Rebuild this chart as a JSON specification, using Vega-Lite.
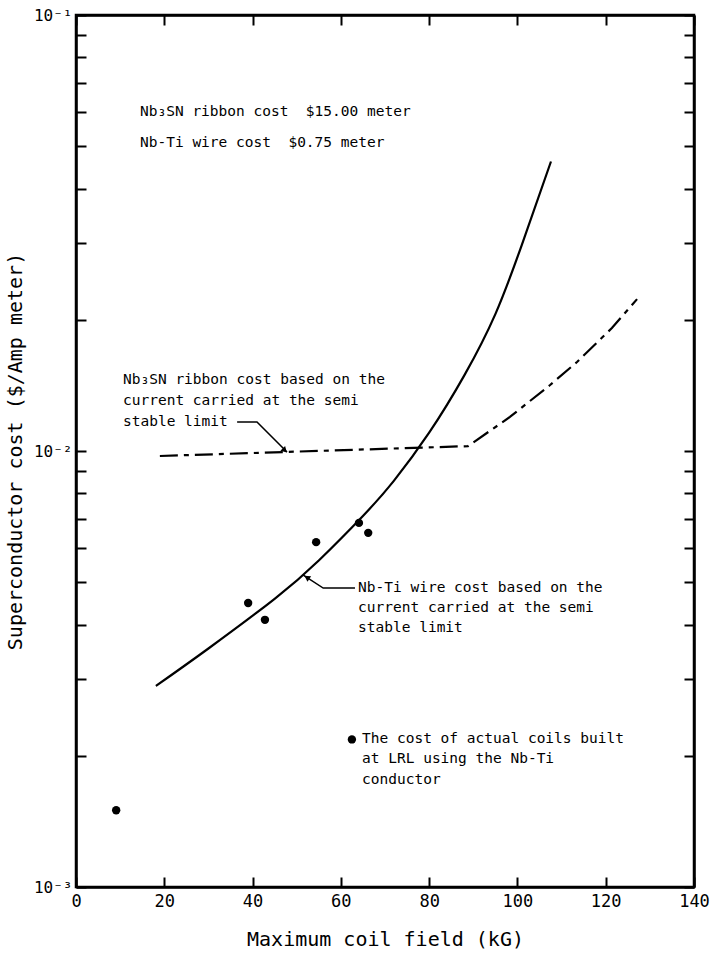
{
  "$schema": "https://vega.github.io/schema/vega-lite/v6.json",
  "width": 618,
  "height": 872,
  "autosize": "none",
  "padding": {"left": 76, "top": 15, "right": 21, "bottom": 69},
  "background": "white",
  "config": {
    "view": {"stroke": "black", "strokeWidth": 2.5},
    "font": "DejaVu Sans Mono",
    "axis": {
      "domainColor": "black",
      "domainWidth": 2.5,
      "tickColor": "black",
      "tickWidth": 2,
      "tickSize": -10,
      "grid": false,
      "labelColor": "black",
      "labelFont": "DejaVu Sans Mono",
      "labelFontSize": 17,
      "labelOverlap": false,
      "labelFlush": false,
      "titleColor": "black",
      "titleFont": "DejaVu Sans Mono",
      "titleFontSize": 20,
      "titleFontWeight": "normal"
    }
  },
  "datasets": {
    "nbti": [
      {"x": 18.1, "y": 0.002891},
      {"x": 30, "y": 0.003524},
      {"x": 45, "y": 0.004581},
      {"x": 55, "y": 0.00561},
      {"x": 65, "y": 0.007096},
      {"x": 72, "y": 0.008541},
      {"x": 80, "y": 0.011015},
      {"x": 88, "y": 0.014928},
      {"x": 95, "y": 0.020606},
      {"x": 101, "y": 0.029717},
      {"x": 107.6, "y": 0.046132}
    ],
    "nb3sn": [
      {"x": 19.0, "y": 0.00974},
      {"x": 88.8, "y": 0.01026},
      {"x": 98.3, "y": 0.01197},
      {"x": 107.4, "y": 0.01417},
      {"x": 113.5, "y": 0.016},
      {"x": 121.4, "y": 0.01914},
      {"x": 127.1, "y": 0.0223}
    ],
    "coils": [
      {"x": 9.1, "y": 0.0015},
      {"x": 39.0, "y": 0.00448},
      {"x": 42.8, "y": 0.0041},
      {"x": 54.4, "y": 0.00618},
      {"x": 64.1, "y": 0.00684},
      {"x": 66.2, "y": 0.00649},
      {"x": 62.5, "y": 0.00218}
    ],
    "leaders": [
      {"leader": "a", "order": 1, "x": 36.5, "y": 0.01165},
      {"leader": "a", "order": 2, "x": 41.0, "y": 0.01165},
      {"leader": "a", "order": 3, "x": 47.8, "y": 0.00995},
      {"leader": "b", "order": 1, "x": 51.4, "y": 0.0052},
      {"leader": "b", "order": 2, "x": 56.0, "y": 0.00485},
      {"leader": "b", "order": 3, "x": 63.2, "y": 0.00485}
    ],
    "arrows": [
      {"x": 47.3, "y": 0.01003, "angle": 135},
      {"x": 52.3, "y": 0.00513, "angle": 303}
    ],
    "notes": [
      {"x": 14.5, "y": 0.0599, "text": "Nb₃SN ribbon cost\u00a0\u00a0$15.00 meter"},
      {"x": 14.5, "y": 0.0508, "text": "Nb-Ti wire cost\u00a0\u00a0$0.75 meter"},
      {"x": 10.65, "y": 0.01455, "text": "Nb₃SN ribbon cost based on the"},
      {"x": 10.65, "y": 0.01302, "text": "current carried at the semi"},
      {"x": 10.65, "y": 0.01165, "text": "stable limit"},
      {"x": 63.9, "y": 0.00485, "text": "Nb-Ti wire cost based on the"},
      {"x": 63.9, "y": 0.00436, "text": "current carried at the semi"},
      {"x": 63.9, "y": 0.00393, "text": "stable limit"},
      {"x": 64.8, "y": 0.00219, "text": "The cost of actual coils built"},
      {"x": 64.8, "y": 0.00197, "text": "at LRL using the Nb-Ti"},
      {"x": 64.8, "y": 0.00176, "text": "conductor"}
    ]
  },
  "resolve": {"axis": {"x": "independent", "y": "independent"}},
  "layer": [
    {
      "data": {"name": "nbti"},
      "mark": {"type": "line", "interpolate": "natural", "color": "black", "strokeWidth": 2.2},
      "encoding": {
        "x": {
          "field": "x", "type": "quantitative",
          "scale": {"domain": [0, 140], "nice": false, "zero": false},
          "axis": {
            "orient": "bottom",
            "values": [0, 20, 40, 60, 80, 100, 120, 140],
            "labelPadding": 16,
            "title": "Maximum coil field (kG)",
            "titlePadding": 20
          }
        },
        "y": {
          "field": "y", "type": "quantitative",
          "scale": {"type": "log", "domain": [0.001, 0.1], "nice": false},
          "axis": {
            "orient": "left",
            "values": [0.001, 0.002, 0.003, 0.004, 0.005, 0.006, 0.007, 0.008, 0.009, 0.01, 0.02, 0.03, 0.04, 0.05, 0.06, 0.07, 0.08, 0.09, 0.1],
            "labelExpr": "datum.value == 0.1 ? '10⁻¹' : datum.value == 0.01 ? '10⁻²' : datum.value == 0.001 ? '10⁻³' : ''",
            "labelFontSize": 16,
            "labelPadding": 14,
            "title": "Superconductor cost ($/Amp meter)",
            "titlePadding": 8
          }
        }
      }
    },
    {
      "data": {"name": "nb3sn"},
      "mark": {"type": "line", "color": "black", "strokeWidth": 2.2, "strokeDash": [18, 6, 5, 6]},
      "encoding": {
        "x": {
          "field": "x", "type": "quantitative",
          "axis": {"orient": "top", "values": [0, 20, 40, 60, 80, 100, 120, 140], "labels": false, "title": null}
        },
        "y": {
          "field": "y", "type": "quantitative",
          "axis": {
            "orient": "right",
            "values": [0.001, 0.002, 0.003, 0.004, 0.005, 0.006, 0.007, 0.008, 0.009, 0.01, 0.02, 0.03, 0.04, 0.05, 0.06, 0.07, 0.08, 0.09, 0.1],
            "labels": false, "title": null
          }
        }
      }
    },
    {
      "data": {"name": "leaders"},
      "mark": {"type": "line", "color": "black", "strokeWidth": 1.5},
      "encoding": {
        "x": {"field": "x", "type": "quantitative", "axis": null},
        "y": {"field": "y", "type": "quantitative", "axis": null},
        "detail": {"field": "leader"},
        "order": {"field": "order"}
      }
    },
    {
      "data": {"name": "arrows"},
      "mark": {"type": "point", "shape": "triangle-up", "filled": true, "color": "black", "size": 45, "opacity": 1},
      "encoding": {
        "x": {"field": "x", "type": "quantitative", "axis": null},
        "y": {"field": "y", "type": "quantitative", "axis": null},
        "angle": {"field": "angle", "type": "quantitative", "scale": null}
      }
    },
    {
      "data": {"name": "coils"},
      "mark": {"type": "circle", "color": "black", "size": 70, "opacity": 1},
      "encoding": {
        "x": {"field": "x", "type": "quantitative", "axis": null},
        "y": {"field": "y", "type": "quantitative", "axis": null}
      }
    },
    {
      "data": {"name": "notes"},
      "mark": {"type": "text", "align": "left", "baseline": "middle", "font": "DejaVu Sans Mono", "fontSize": 14.5, "color": "black"},
      "encoding": {
        "x": {"field": "x", "type": "quantitative", "axis": null},
        "y": {"field": "y", "type": "quantitative", "axis": null},
        "text": {"field": "text"}
      }
    }
  ]
}
